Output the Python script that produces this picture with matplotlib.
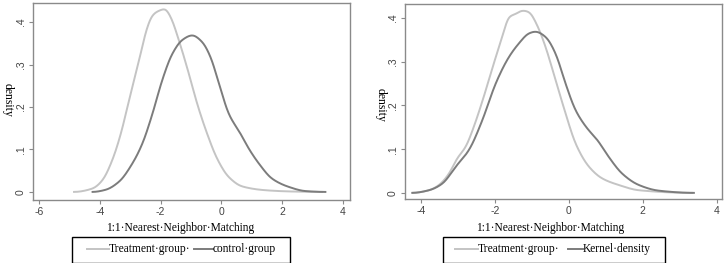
import numpy as np
import matplotlib
matplotlib.use("Agg")
import matplotlib.pyplot as plt
from matplotlib.lines import Line2D
from matplotlib.patches import Rectangle

# ---- data ----
# Left panel: treatment vs control
treat_L_x = [-4.85, -4.24, -3.92, -3.59, -3.31, -3.04, -2.71, -2.44, -2.27, -2.05, -1.86, -1.67, -1.40, -1.07, -0.80, -0.47, -0.14, 0.24, 0.68, 1.45, 2.32, 3.31]
treat_L_y = [0.0, 0.008, 0.027, 0.075, 0.137, 0.216, 0.31, 0.388, 0.416, 0.427, 0.431, 0.412, 0.357, 0.278, 0.208, 0.137, 0.078, 0.035, 0.013, 0.004, 0.001, 0.0]
ctrl_L_x = [-4.24, -3.81, -3.37, -2.93, -2.60, -2.27, -1.95, -1.62, -1.29, -0.96, -0.63, -0.36, -0.08, 0.24, 0.63, 0.90, 1.23, 1.67, 2.21, 2.76, 3.42]
ctrl_L_y = [0.0, 0.005, 0.024, 0.067, 0.114, 0.184, 0.263, 0.325, 0.358, 0.369, 0.353, 0.318, 0.255, 0.184, 0.137, 0.102, 0.067, 0.031, 0.012, 0.002, 0.0]

# Right panel: treatment vs kernel density
treat_R_x = [-4.23, -3.78, -3.51, -3.24, -3.02, -2.79, -2.57, -2.30, -2.03, -1.80, -1.62, -1.44, -1.26, -1.08, -0.86, -0.63, -0.36, -0.09, 0.18, 0.54, 0.90, 1.35, 1.89, 3.33]
treat_R_y = [0.0, 0.006, 0.018, 0.044, 0.079, 0.105, 0.151, 0.22, 0.296, 0.357, 0.403, 0.409, 0.417, 0.414, 0.384, 0.334, 0.258, 0.182, 0.113, 0.06, 0.033, 0.018, 0.006, 0.0]
kern_R_x = [-4.23, -3.78, -3.42, -3.06, -2.70, -2.34, -1.98, -1.62, -1.35, -1.08, -0.90, -0.63, -0.36, -0.09, 0.18, 0.50, 0.77, 1.08, 1.44, 1.89, 2.43, 3.38]
kern_R_y = [0.0, 0.006, 0.021, 0.06, 0.098, 0.166, 0.25, 0.311, 0.342, 0.365, 0.369, 0.357, 0.319, 0.25, 0.189, 0.147, 0.121, 0.082, 0.044, 0.018, 0.005, 0.0]

yticks = [0, 0.1, 0.2, 0.3, 0.4]
yticklabels = ["0", ".1", ".2", ".3", ".4"]
xticks_L = [-6, -4, -2, 0, 2, 4]
xticks_R = [-4, -2, 0, 2, 4]
xlabel = "1:1·Nearest·Neighbor·Matching"
legend_L = ["Treatment·group·", "control·group"]
legend_R = ["Treatment·group·", "Kernel·density"]

LIGHT = "#c4c4c4"
DARK = "#7c7c7c"
SERIF = "Liberation Serif"
SANS = "Liberation Sans"
W, H = 727.0, 263.0


def pchip(x, y, n=400):
    x = np.asarray(x, float); y = np.asarray(y, float)
    h = np.diff(x); d = np.diff(y) / h
    m = np.zeros_like(y)
    for k in range(1, len(x) - 1):
        if d[k - 1] * d[k] <= 0:
            m[k] = 0.0
        else:
            w1 = 2 * h[k] + h[k - 1]; w2 = h[k] + 2 * h[k - 1]
            m[k] = (w1 + w2) / (w1 / d[k - 1] + w2 / d[k])
    xs = np.linspace(x[0], x[-1], n)
    idx = np.clip(np.searchsorted(x, xs) - 1, 0, len(x) - 2)
    t = (xs - x[idx]) / h[idx]
    h00 = 2 * t**3 - 3 * t**2 + 1; h10 = t**3 - 2 * t**2 + t
    h01 = -2 * t**3 + 3 * t**2; h11 = t**3 - t**2
    ys = h00 * y[idx] + h10 * h[idx] * m[idx] + h01 * y[idx + 1] + h11 * h[idx] * m[idx + 1]
    k = np.exp(-0.5 * (np.arange(-9, 10) / 3.0) ** 2); k /= k.sum()
    ys = np.convolve(np.pad(ys, 9, mode="edge"), k, mode="valid")
    return xs, np.clip(ys, 0, None)


fig = plt.figure(figsize=(7.27, 2.63), dpi=100)
fig.patch.set_facecolor("white")


def setup(ax, xlim, ylim, xticks):
    ax.set_xlim(*xlim); ax.set_ylim(*ylim)
    ax.set_xticks(xticks)
    ax.set_xticklabels([str(v) for v in xticks], fontsize=7.5, family=SANS, color="#444444")
    ax.set_yticks(yticks)
    ax.set_yticklabels(yticklabels, fontsize=7.5, family=SANS, color="#444444", rotation=90, va="center")
    for s in ax.spines.values():
        s.set_color("#8a8a8a"); s.set_linewidth(1.0)
    ax.tick_params(length=3, width=0.8, color="#8a8a8a", pad=2)


axL = fig.add_axes([33 / W, 63 / H, 317 / W, 197 / H])
setup(axL, (-6.2, 4.23), (-0.019, 0.445), xticks_L)
x, y = pchip(treat_L_x, treat_L_y); axL.plot(x, y, color=LIGHT, lw=1.4)
x, y = pchip(ctrl_L_x, ctrl_L_y); axL.plot(x, y, color=DARK, lw=1.4)
fig.text(180 / W, 1 - 228 / H, xlabel, family=SERIF, fontsize=8.3, ha="center", va="center")
fig.text(8 / W, 1 - 100 / H, "density", rotation=270, family=SERIF, fontsize=8.5, ha="center", va="center")

axR = fig.add_axes([405 / W, 64 / H, 317 / W, 195 / H])
setup(axR, (-4.43, 4.14), (-0.014, 0.432), xticks_R)
x, y = pchip(treat_R_x, treat_R_y); axR.plot(x, y, color=LIGHT, lw=1.4)
x, y = pchip(kern_R_x, kern_R_y); axR.plot(x, y, color=DARK, lw=1.4)
fig.text(550 / W, 1 - 228 / H, xlabel, family=SERIF, fontsize=8.3, ha="center", va="center")
fig.text(381 / W, 1 - 105 / H, "density", rotation=270, family=SERIF, fontsize=8.5, ha="center", va="center")


def add_legend(labels, box, l1, t1, l2, t2, yc=249):
    tr = fig.transFigure
    x0, x1, ytop = box
    fig.patches.append(Rectangle((x0 / W, 0.0), (x1 - x0) / W, (H - ytop) / H,
                                 transform=tr, fill=False, edgecolor="black", lw=1.0))
    yy = 1 - yc / H
    fig.lines.append(Line2D([l1[0] / W, l1[1] / W], [yy, yy], transform=tr, color=LIGHT, lw=1.4))
    fig.text(t1 / W, yy, labels[0], family=SERIF, fontsize=8.3, ha="left", va="center")
    fig.lines.append(Line2D([l2[0] / W, l2[1] / W], [yy, yy], transform=tr, color=DARK, lw=1.4))
    fig.text(t2 / W, yy, labels[1], family=SERIF, fontsize=8.3, ha="left", va="center")


add_legend(legend_L, (72, 290, 237), (87, 109), 109, (194, 213), 213)
add_legend(legend_R, (443, 665, 237), (455, 478), 478, (568, 583), 583)

fig.savefig("out.png", dpi=100, facecolor="white")
